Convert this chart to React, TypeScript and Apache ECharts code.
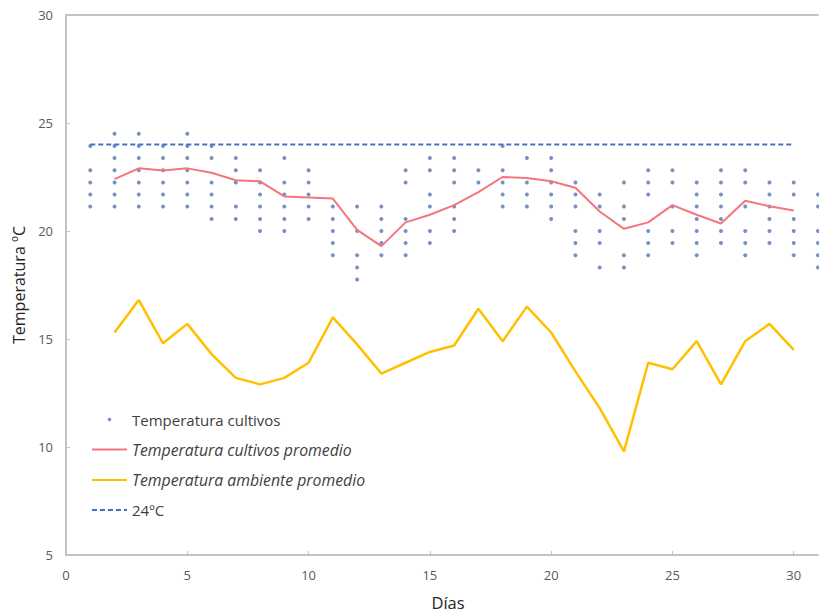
import React, { useEffect, useRef } from "react";
import * as echarts from "echarts";

const FONT = "'Open Sans', 'DejaVu Sans', sans-serif";

// Days of the month
const days = [2, 3, 4, 5, 6, 7, 8, 9, 10, 11, 12, 13, 14, 15, 16, 17, 18, 19, 20, 21, 22, 23, 24, 25, 26, 27, 28, 29, 30];

// Individual crop temperature readings per day (day 1 .. 31)
const cultivoReadings: number[][] = [
  [23.94, 22.81, 22.25, 21.69, 21.13],
  [24.5, 23.94, 23.38, 22.81, 22.25, 21.69, 21.13],
  [24.5, 23.94, 23.38, 22.81, 22.25, 21.69, 21.13],
  [23.94, 23.38, 22.81, 22.25, 21.69, 21.13],
  [24.5, 23.94, 23.38, 22.81, 22.25, 21.69, 21.13],
  [23.94, 23.38, 22.25, 21.69, 21.13, 20.56],
  [23.38, 22.81, 22.25, 21.13, 20.56],
  [22.81, 22.25, 21.69, 21.13, 20.56, 20.0],
  [23.38, 22.25, 21.69, 21.13, 20.56, 20.0],
  [22.81, 22.25, 21.69, 21.13, 20.56],
  [21.13, 20.56, 20.0, 19.44, 18.88],
  [21.13, 20.0, 18.88, 18.31, 17.75],
  [21.13, 20.56, 20.0, 19.44, 18.88],
  [22.81, 22.25, 20.56, 20.0, 19.44, 18.88],
  [23.38, 22.81, 21.69, 21.13, 20.0, 19.44],
  [23.38, 22.81, 22.25, 21.13, 20.56, 20.0],
  [22.81, 22.25],
  [23.94, 22.81, 22.25, 21.69, 21.13],
  [23.38, 22.25, 21.69, 21.13],
  [23.38, 22.81, 22.25, 21.69, 21.13, 20.56],
  [22.25, 21.69, 21.13, 20.0, 19.44, 18.88],
  [21.69, 21.13, 20.0, 19.44, 18.31],
  [22.25, 21.13, 20.56, 18.88, 18.31],
  [22.81, 22.25, 21.69, 20.0, 19.44, 18.88],
  [22.81, 22.25, 21.13, 20.0, 19.44],
  [22.25, 21.69, 21.13, 20.56, 20.0, 19.44, 18.88],
  [22.81, 22.25, 21.69, 21.13, 20.56, 20.0, 19.44],
  [22.81, 22.25, 21.13, 20.0, 19.44, 18.88],
  [22.25, 21.69, 21.13, 20.56, 20.0, 19.44],
  [22.25, 21.69, 20.56, 20.0, 19.44, 18.88],
  [21.69, 21.13, 20.0, 19.44, 18.88, 18.31],
];

// Average crop temperature (days 2..30)
const cultivoPromedio = [
  22.4, 22.9, 22.8, 22.9, 22.7, 22.35, 22.3, 21.6, 21.55, 21.5,
  20.05, 19.3, 20.4, 20.75, 21.2, 21.8, 22.5, 22.45, 22.3, 22.0,
  20.9, 20.1, 20.4, 21.2, 20.75, 20.35, 21.4, 21.15, 20.95,
];

// Average ambient temperature (days 2..30)
const ambientePromedio = [
  15.3, 16.8, 14.8, 15.7, 14.3, 13.2, 12.9, 13.2, 13.9, 16.0,
  14.75, 13.4, 13.9, 14.4, 14.7, 16.4, 14.9, 16.5, 15.3, 13.5,
  11.8, 9.8, 13.9, 13.6, 14.9, 12.9, 14.9, 15.7, 14.5,
];

// 24 ºC reference line
const referenciaDias = [1, 30];
const referenciaValor = 24;

const xTicks = [0, 5, 10, 15, 20, 25, 30];
const yTicks = [5, 10, 15, 20, 25, 30];

export default function App() {
  const ref = useRef<HTMLDivElement>(null);

  useEffect(() => {
    if (!ref.current) return;
    const chart = echarts.init(ref.current, undefined, { renderer: "svg" });

    const scatterData: number[][] = [];
    cultivoReadings.forEach((vals, i) => {
      vals.forEach((v) => scatterData.push([i + 1, v]));
    });

    const axisColor = "#c3c3c3";
    const xMax = 31;

    const option = {
      animation: false,
      textStyle: { fontFamily: FONT },
      grid: {
        left: 66,
        top: 15,
        right: 1,
        bottom: 57,
        show: false,
      },
      xAxis: [
        {
          type: "value",
          min: xTicks[0],
          max: xMax,
          interval: 5,
          name: "Días",
          nameLocation: "middle",
          nameGap: 39,
          nameTextStyle: { fontSize: 16.5, color: "#262626", fontFamily: FONT, padding: [0, 0, 0, 12] },
          axisLine: { show: true, onZero: false, lineStyle: { color: axisColor, width: 2 } },
          axisTick: { show: true, inside: true, length: 4, lineStyle: { color: axisColor } },
          axisLabel: { margin: 13, color: "#595959", fontSize: 13, showMaxLabel: false, fontFamily: FONT },
          splitLine: { show: false },
        },
        {
          type: "value",
          position: "top",
          min: xTicks[0],
          max: xMax,
          interval: 5,
          axisLine: { show: true, onZero: false, lineStyle: { color: axisColor, width: 2 } },
          axisTick: { show: false },
          axisLabel: { show: false },
          splitLine: { show: false },
        },
      ],
      yAxis: {
        type: "value",
        min: yTicks[0],
        max: yTicks[yTicks.length - 1],
        interval: 5,
        name: "Temperatura ºC",
        nameLocation: "middle",
        nameGap: 37,
        nameTextStyle: { fontSize: 16, color: "#262626", fontFamily: FONT },
        axisLine: { show: true, onZero: false, lineStyle: { color: axisColor, width: 2 } },
        axisTick: { show: true, inside: true, length: 4, lineStyle: { color: axisColor } },
        axisLabel: { margin: 13, color: "#595959", fontSize: 13, fontFamily: FONT },
        splitLine: { show: false },
      },
      legend: {
        orient: "vertical",
        left: 91,
        top: 412,
        padding: 0,
        itemWidth: 35,
        itemHeight: 14,
        itemGap: 14.5,
        textStyle: { fontSize: 15, color: "#404040", fontFamily: FONT },
        data: [
          {
            name: "Temperatura cultivos",
            icon: "path://M0,0M35,14M15.7,7a1.8,1.8 0 1,0 3.6,0a1.8,1.8 0 1,0 -3.6,0",
          },
          {
            name: "Temperatura cultivos promedio",
            textStyle: { fontStyle: "italic", fontSize: 15.8 },
            itemStyle: { opacity: 0 },
          },
          {
            name: "Temperatura ambiente promedio",
            textStyle: { fontStyle: "italic", fontSize: 15.8 },
            itemStyle: { opacity: 0 },
          },
          { name: "24ºC", itemStyle: { opacity: 0 } },
        ],
      },
      series: [
        {
          name: "Temperatura cultivos",
          type: "scatter",
          data: scatterData,
          symbolSize: 4,
          itemStyle: { color: "#5576b3" },
          z: 2,
        },
        {
          name: "Temperatura cultivos promedio",
          type: "line",
          data: days.map((d, i) => [d, cultivoPromedio[i]]),
          symbol: "none",
          showSymbol: false,
          lineStyle: { color: "#f2767c", width: 2 },
          itemStyle: { color: "#f2767c" },
          z: 3,
        },
        {
          name: "Temperatura ambiente promedio",
          type: "line",
          data: days.map((d, i) => [d, ambientePromedio[i]]),
          symbol: "none",
          showSymbol: false,
          lineStyle: { color: "#ffc000", width: 2.5 },
          itemStyle: { color: "#ffc000" },
          z: 3,
        },
        {
          name: "24ºC",
          type: "line",
          data: referenciaDias.map((d) => [d, referenciaValor]),
          symbol: "none",
          showSymbol: false,
          lineStyle: { color: "#4472c4", width: 2, type: [5, 3] },
          itemStyle: { color: "#4472c4" },
          z: 4,
        },
      ],
    };

    chart.setOption(option);
    return () => chart.dispose();
  }, []);

  return (
    <div
      ref={ref}
      style={{ position: "absolute", left: 0, top: 0, width: 819, height: 616, background: "#fff" }}
    />
  );
}
